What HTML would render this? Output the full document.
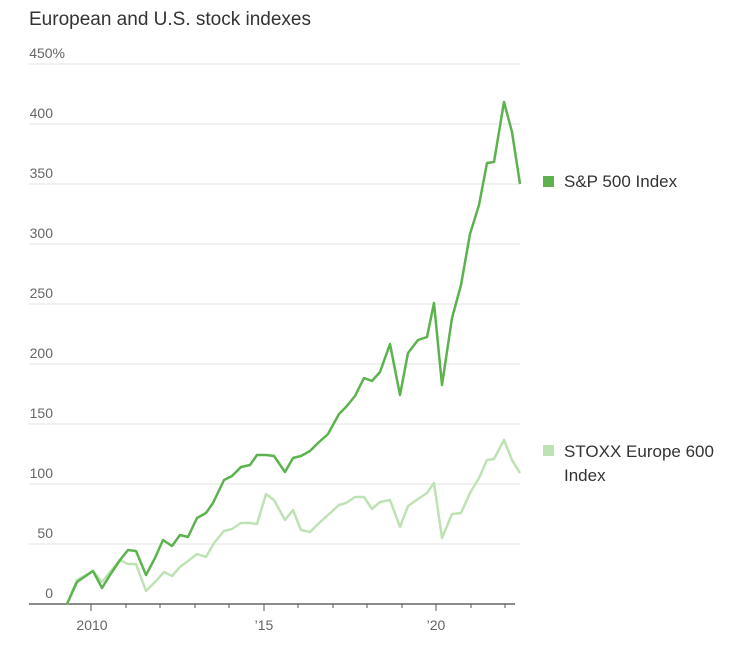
<!DOCTYPE html>
<html><head><meta charset="utf-8"><style>
body{margin:0;background:#fff;}
svg{display:block;font-family:"Liberation Sans",Arial,sans-serif;}
</style></head><body>
<svg width="740" height="653" viewBox="0 0 740 653">
<text x="29" y="25" font-size="19" fill="#333">European and U.S. stock indexes</text>
<g stroke="#e3e3e3" stroke-width="1">
<line x1="29" x2="520" y1="64" y2="64"/><line x1="29" x2="520" y1="124" y2="124"/>
<line x1="29" x2="520" y1="184" y2="184"/><line x1="29" x2="520" y1="244" y2="244"/>
<line x1="29" x2="520" y1="304" y2="304"/><line x1="29" x2="520" y1="364" y2="364"/>
<line x1="29" x2="520" y1="424" y2="424"/><line x1="29" x2="520" y1="484" y2="484"/>
<line x1="29" x2="520" y1="544" y2="544"/>
</g>
<g font-size="14" fill="#666" text-anchor="end">
<text x="65" y="58">450%</text><text x="53" y="118">400</text><text x="53" y="178">350</text>
<text x="53" y="238">300</text><text x="53" y="298">250</text><text x="53" y="358">200</text>
<text x="53" y="418">150</text><text x="53" y="478">100</text><text x="53" y="538">50</text>
<text x="53" y="598">0</text>
</g>
<line x1="29" x2="515" y1="604" y2="604" stroke="#666" stroke-width="1.5"/>
<g stroke="#555" stroke-width="1">
<line x1="91" x2="91" y1="604" y2="611"/><line x1="264" x2="264" y1="604" y2="611"/><line x1="436" x2="436" y1="604" y2="611"/>
<line x1="126" x2="126" y1="604" y2="608"/><line x1="160" x2="160" y1="604" y2="608"/><line x1="195" x2="195" y1="604" y2="608"/><line x1="229" x2="229" y1="604" y2="608"/>
<line x1="298" x2="298" y1="604" y2="608"/><line x1="333" x2="333" y1="604" y2="608"/><line x1="367" x2="367" y1="604" y2="608"/><line x1="402" x2="402" y1="604" y2="608"/>
<line x1="471" x2="471" y1="604" y2="608"/><line x1="505" x2="505" y1="604" y2="608"/>
</g>
<g font-size="14" fill="#666" text-anchor="middle">
<text x="92" y="630">2010</text><text x="264" y="630">’15</text><text x="436" y="630">’20</text>
</g>
<polyline fill="none" stroke="#bfe2b5" stroke-width="2.5" stroke-linejoin="round" points="67,604 77,580 93,571 102,582 110,572 120,560 128,564 136,564 146,591 155,582 164,572 172,576 180,567 188,561 197,554 206,557 214,543 224,531 232,529 241,523 250,523 257,524 266,494 274,500 285,520 293,510 301,530 310,532 318,524 328,515 339,505 346,503 355,497 364,497 372,509 380,502 390,500 400,527 408,506 418,499 427,493 434,483 442,538 452,514 461,513 470,493 479,478 487,460 494,459 504,440 512,460 520,473"/>
<polyline fill="none" stroke="#5cb34e" stroke-width="2.5" stroke-linejoin="round" points="67,604 77,582 93,571 102,588 110,575 120,560 128,550 136,551 146,575 155,558 163,540 172,546 180,535 188,537 197,518 206,513 213,503 224,480 232,476 241,467 250,465 257,455 266,455 274,456 285,472 293,458 301,456 310,451 318,443 328,434 339,414 346,407 355,396 364,378 372,381 380,372 390,344 400,395 408,353 418,340 427,337 434,303 442,385 452,318 461,285 470,234 479,205 487,163 494,162 504,102 512,132 520,184"/>
<rect x="543" y="176" width="11" height="11" fill="#5cb34e"/>
<text x="564" y="187" font-size="17" fill="#333">S&amp;P 500 Index</text>
<rect x="543" y="445" width="11" height="11" fill="#bfe2b5"/>
<text x="564" y="457" font-size="17" fill="#333">STOXX Europe 600</text>
<text x="564" y="481" font-size="17" fill="#333">Index</text>
</svg>
</body></html>
